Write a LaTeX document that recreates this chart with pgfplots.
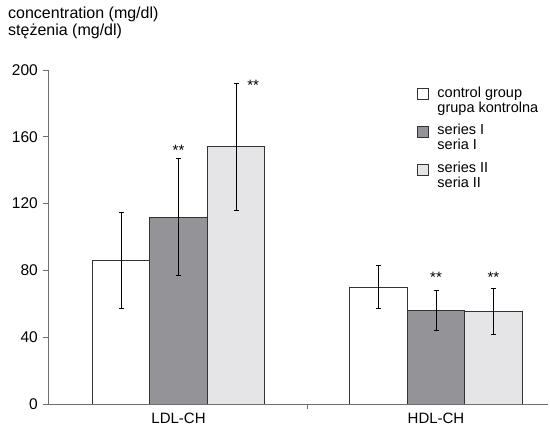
\documentclass[border=0pt]{standalone}
\usepackage{pgfplots}
\pgfplotsset{compat=1.18}
\usepackage{fontspec}
\setmainfont{Liberation Sans}
\definecolor{darkbar}{RGB}{148,148,152}
\definecolor{lightbar}{RGB}{229,229,231}
\definecolor{axgray}{RGB}{110,110,110}
\begin{document}
\fontsize{15bp}{15.5bp}\selectfont
\begin{tikzpicture}
\pgfplotsset{
  boxlegend/.style={legend image code/.code={\draw[##1] (0bp,1bp) rectangle (11bp,12bp);}},
  errs/.style={
    error bars/y dir=both, error bars/y explicit,
    error bars/error bar style={black, line width=0.7bp},
    error bars/error mark options={rotate=90, mark size=2.5bp, black, line width=0.7bp}},
}
\begin{axis}[
  at={(48bp,27bp)}, anchor=south west,
  scale only axis, width=500bp, height=334bp,
  ybar=0pt, bar width=0.2233,
  xmin=-0.507, xmax=1.435, ymin=0, ymax=200,
  axis x line*=bottom, axis y line*=left,
  axis line style={axgray, -},
  ytick={0,40,...,200}, tick align=outside, major tick length=5bp,
  tick style={axgray, line width=0.8bp},
  xtick={0.5}, xticklabels={},
  extra x ticks={0,1}, extra x tick labels={LDL-CH,HDL-CH},
  extra x tick style={major tick length=0pt},
  yticklabel style={font=\fontsize{15.5bp}{16bp}\selectfont},
  xticklabel style={font=\fontsize{15bp}{16bp}\selectfont, yshift=-4bp},
  /pgf/number format/assume math mode=true,
  legend style={at={(0.731,0.963)}, anchor=north west, draw=none, fill=none,
    cells={align=left, anchor=west}, row sep=6bp, column sep=7bp,
    font=\fontsize{14.5bp}{15bp}\selectfont},
]
\addplot[fill=white, draw=black!80, line width=0.8bp, boxlegend, errs]
  table[x=x, y=y, y error plus=ep, y error minus=em] {
x y ep em
0 86 29 29
1 70 13 13
};
\addplot[fill=darkbar, draw=black!80, line width=0.8bp, boxlegend, errs]
  table[x=x, y=y, y error plus=ep, y error minus=em] {
x y ep em
0 111.5 35.5 34.5
1 56 12 12
};
\addplot[fill=lightbar, draw=black!80, line width=0.8bp, boxlegend, errs]
  table[x=x, y=y, y error plus=ep, y error minus=em] {
x y ep em
0 154 38 38
1 55.5 13.5 13.5
};
\legend{control group\\grupa kontrolna, series I\\seria I, series II\\seria II}
\node at (axis cs:0,152) {**};
\node at (axis cs:0.29,191) {**};
\node at (axis cs:1,76) {**};
\node at (axis cs:1.2233,76) {**};
\end{axis}
\node[anchor=north west, align=left, inner sep=0pt, font=\fontsize{16bp}{17bp}\selectfont]
  at (8bp,424bp) {concentration (mg/dl)\\stężenia (mg/dl)};
\pgfresetboundingbox
\path[use as bounding box] (0,0) rectangle (550bp,431bp);
\end{tikzpicture}
\end{document}
